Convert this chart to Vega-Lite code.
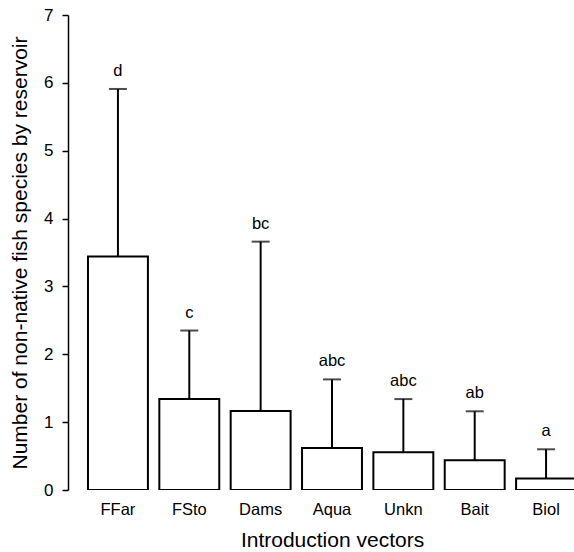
{
  "$schema": "https://vega.github.io/schema/vega-lite/v6.json",
  "autosize": {"type": "none"},
  "padding": {"left": 68, "top": 15, "right": 0, "bottom": 62},
  "width": 506,
  "height": 475,
  "background": "white",
  "config": {
    "font": "Liberation Sans",
    "view": {"stroke": null},
    "axis": {"grid": false, "domainColor": "black", "tickColor": "black", "labelColor": "black", "titleColor": "black", "labelFont": "Liberation Sans", "titleFont": "Liberation Sans", "titleFontWeight": "normal"}
  },
  "data": {
    "values": [
      {"vector": "FFar", "mean": 3.44, "upper": 5.91, "group": "d"},
      {"vector": "FSto", "mean": 1.34, "upper": 2.35, "group": "c"},
      {"vector": "Dams", "mean": 1.165, "upper": 3.66, "group": "bc"},
      {"vector": "Aqua", "mean": 0.62, "upper": 1.63, "group": "abc"},
      {"vector": "Unkn", "mean": 0.555, "upper": 1.34, "group": "abc"},
      {"vector": "Bait", "mean": 0.44, "upper": 1.16, "group": "ab"},
      {"vector": "Biol", "mean": 0.17, "upper": 0.6, "group": "a"}
    ]
  },
  "encoding": {
    "x": {
      "field": "vector",
      "type": "nominal",
      "sort": null,
      "scale": {"range": [0, 528], "paddingInner": 0.16, "paddingOuter": 0.28},
      "axis": {
        "title": "Introduction vectors",
        "domain": false,
        "ticks": false,
        "tickSize": 0,
        "labelAngle": 0,
        "labelFontSize": 16.5,
        "labelPadding": 11,
        "titleFontSize": 21,
        "titleX": 264,
        "titleY": 56,
        "titleBaseline": "alphabetic",
        "titleAnchor": "middle"
      }
    }
  },
  "layer": [
    {
      "mark": {"type": "rule", "stroke": "black", "strokeWidth": 2, "clip": true},
      "encoding": {
        "y": {"field": "mean", "type": "quantitative"},
        "y2": {"field": "upper"}
      }
    },
    {
      "mark": {"type": "tick", "color": "black", "size": 18, "thickness": 2, "clip": true},
      "encoding": {
        "y": {"field": "upper", "type": "quantitative"}
      }
    },
    {
      "mark": {"type": "bar", "fill": "white", "stroke": "black", "strokeWidth": 2, "clip": true},
      "encoding": {
        "y": {
          "field": "mean",
          "type": "quantitative",
          "scale": {"domain": [0, 7], "nice": false, "zero": true},
          "axis": {
            "title": "Number of non-native fish species by reservoir",
            "values": [0, 1, 2, 3, 4, 5, 6, 7],
            "format": "d",
            "domainWidth": 1.5,
            "tickWidth": 1.5,
            "tickSize": 6,
            "labelFontSize": 17,
            "labelPadding": 9,
            "titleFontSize": 21,
            "titleX": -48,
            "titleY": 237.5,
            "titleAngle": -90,
            "titleBaseline": "middle",
            "titleAnchor": "middle"
          }
        }
      }
    },
    {
      "mark": {"type": "text", "baseline": "alphabetic", "dy": -13, "fontSize": 16.5, "color": "black", "font": "Liberation Sans"},
      "encoding": {
        "y": {"field": "upper", "type": "quantitative"},
        "text": {"field": "group"}
      }
    }
  ]
}
